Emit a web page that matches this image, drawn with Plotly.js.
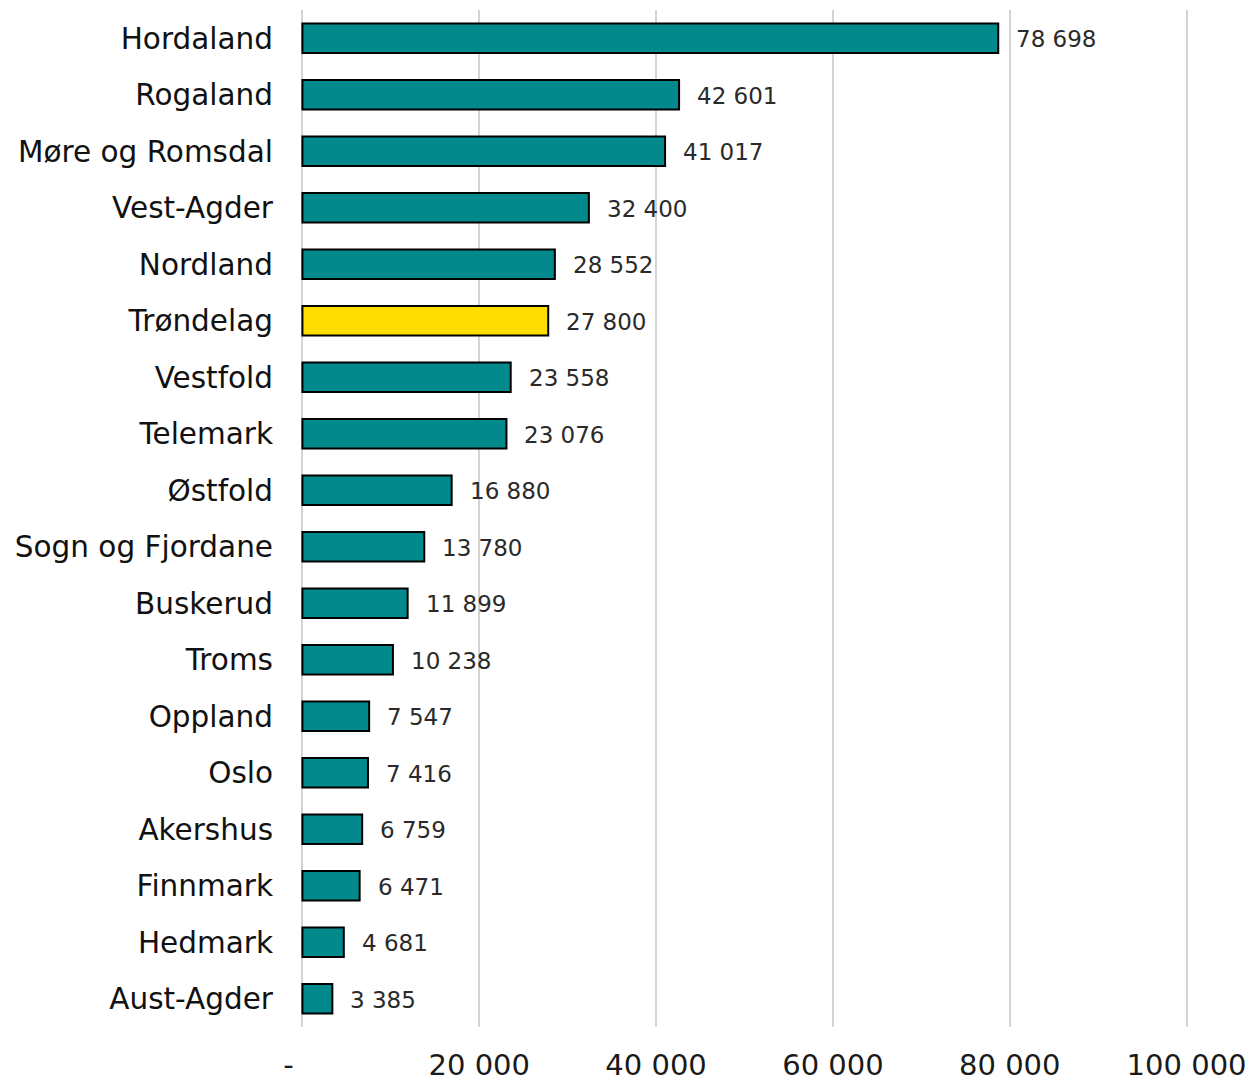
<!DOCTYPE html>
<html>
<head>
<meta charset="utf-8">
<script src="https://cdn.plot.ly/plotly-3.0.1.min.js"></script>
<style>html,body{margin:0;padding:0;background:#fff;}#chart{width:1252px;height:1081px;}</style>
</head>
<body>
<div id="chart"></div>
<script>
const regions = ["Hordaland","Rogaland","Møre og Romsdal","Vest-Agder","Nordland","Trøndelag","Vestfold","Telemark","Østfold","Sogn og Fjordane","Buskerud","Troms","Oppland","Oslo","Akershus","Finnmark","Hedmark","Aust-Agder"];
const values = [78698,42601,41017,32400,28552,27800,23558,23076,16880,13780,11899,10238,7547,7416,6759,6471,4681,3385];
const highlight = "Trøndelag";
const tickVals = [0,20000,40000,60000,80000,100000];
const tickText = ["-\u00a0\u00a0\u00a0","20 000","40 000","60 000","80 000","100 000"];

const fmt = v => String(v).replace(/\B(?=(\d{3})+(?!\d))/g, " ");
const colors = regions.map(r => r === highlight ? "#FFDD00" : "#02898B");
const FONT = "DejaVu Sans, Verdana, sans-serif";

const trace = {
  type: "bar",
  orientation: "h",
  y: regions,
  x: values,
  marker: {color: colors, line: {color: "#000", width: 2}},
  hoverinfo: "none"
};

const annotations = regions.map((r, i) => ({
  x: values[i], y: r, xref: "x", yref: "y",
  text: fmt(values[i]), showarrow: false,
  xanchor: "left", xshift: 16, yshift: -1,
  font: {family: FONT, size: 23, color: "#2a2a2a"}
}));

const layout = {
  width: 1252, height: 1081,
  margin: {l: 298, r: 61, t: 10, b: 54},
  paper_bgcolor: "#fff", plot_bgcolor: "#fff",
  showlegend: false,
  bargap: 0.48,
  xaxis: {
    range: [-500, 100500],
    tickvals: tickVals, ticktext: tickText,
    showgrid: true, gridcolor: "#d4d4d4", gridwidth: 2,
    zeroline: false, showline: false,
    ticks: "", ticklabelstandoff: 18,
    tickfont: {family: FONT, size: 29, color: "#1a1a1a"}
  },
  yaxis: {
    autorange: "reversed",
    showgrid: false, zeroline: false, showline: false,
    ticks: "", ticklabelstandoff: 24,
    tickfont: {family: FONT, size: 29.5, color: "#111"}
  },
  annotations: annotations
};

Plotly.newPlot("chart", [trace], layout, {displayModeBar: false, staticPlot: true});
</script>
</body>
</html>
